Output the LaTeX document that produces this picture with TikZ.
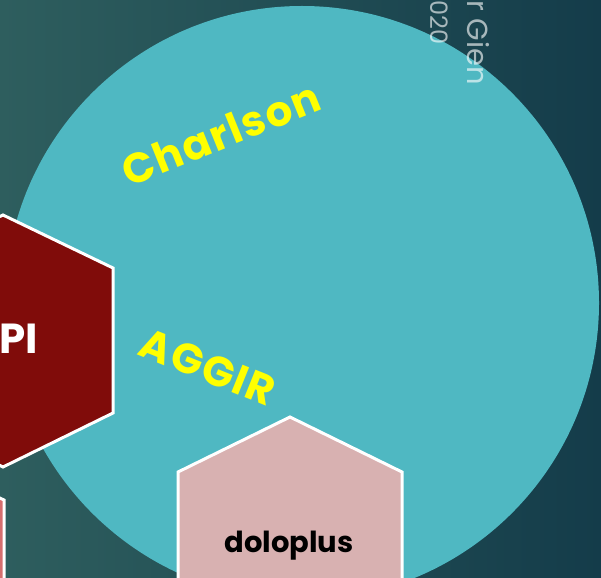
\documentclass[tikz,border=0pt]{standalone}
\usepackage{fontspec}
\setmainfont{Poppins}
\definecolor{bgleft}{RGB}{46,94,94}
\definecolor{bgright}{RGB}{20,60,74}
\definecolor{circ}{RGB}{79,184,194}
\definecolor{hexred}{RGB}{128,12,10}
\definecolor{hexpink}{RGB}{216,177,177}
\definecolor{hexsalmon}{RGB}{214,110,110}
\definecolor{txtyellow}{RGB}{255,255,0}
\tikzset{
  hexbox/.style={draw=white, line width=3pt, line join=miter},
  yellowlabel/.style={text=txtyellow, font=\bfseries\fontsize{42}{42}\selectfont\addfontfeature{LetterSpace=4}, inner sep=0pt},
  signature/.style={text=white, text opacity=0.62, inner sep=0pt, rotate=-90}
}
\begin{document}
\begin{tikzpicture}[x=1pt,y=-1pt]
\useasboundingbox (0,0) rectangle (601,577);
\clip (0,0) rectangle (601,577);
\shade[left color=bgleft, right color=bgright] (0,0) rectangle (601,577);
\fill[circ] (302,303) circle (297);
\draw[hexbox, fill=hexred] (3,215) -- (113,268) -- (113,413) -- (3,467) -- (-107,413) -- (-107,268) -- cycle;
\draw[hexbox, fill=hexpink] (290,417) -- (402,472) -- (402,640) -- (290,700) -- (178,640) -- (178,472) -- cycle;
\draw[hexbox, fill=hexsalmon] (-110,446) -- (4,500) -- (4,700) -- (-110,700) -- cycle;
\node[text=white, font=\bfseries\fontsize{42}{42}\selectfont, inner sep=0pt, anchor=east] (pi) at (38,339) {PI};
\node[font=\bfseries\fontsize{29}{29}\selectfont, inner sep=0pt] (dolo) at (289,546) {doloplus};
\node[yellowlabel, rotate=22] (charlson) at (221,134) {Charlson};
\node[yellowlabel, rotate=-22] (aggir) at (208,367) {AGGIR};
\node[signature, font=\fontsize{29}{29}\selectfont, anchor=base west] (sig1) at (467,0) {r Gien};
\node[signature, font=\fontsize{24}{24}\selectfont, anchor=base west] (sig2) at (430,0) {020};
\end{tikzpicture}
\end{document}
